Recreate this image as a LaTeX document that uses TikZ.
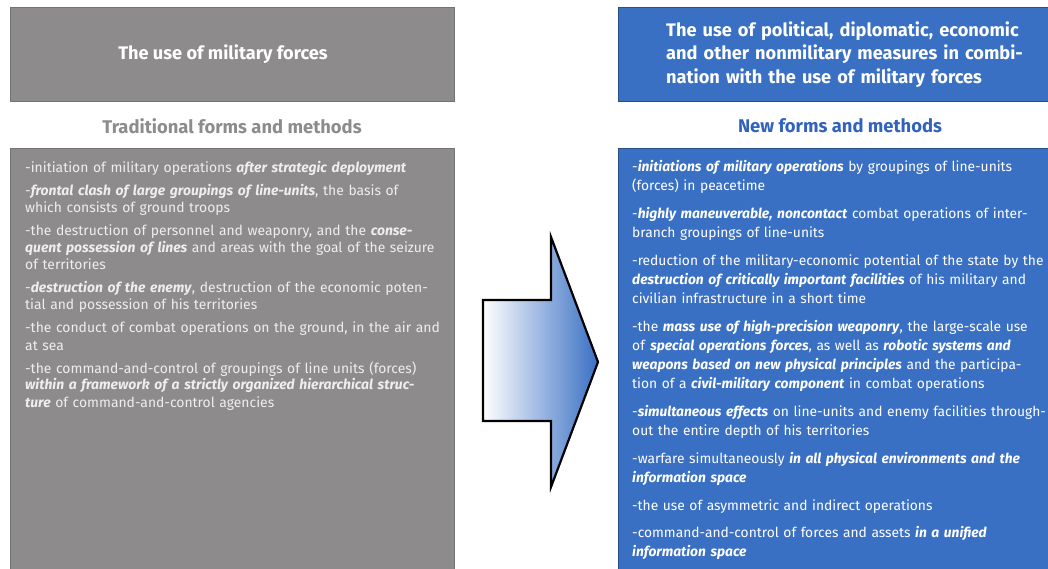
\documentclass[tikz,border=0pt]{standalone}
\usepackage{fontspec}
\setmainfont{Fira Sans}
\definecolor{boxgray}{RGB}{142,139,140}
\definecolor{boxblue}{RGB}{58,112,196}
\definecolor{headgray}{RGB}{140,140,140}
\definecolor{headblue}{RGB}{48,98,190}
\definecolor{lighttext}{RGB}{238,238,238}
\newcommand\emb[1]{\textbf{\textit{#1}}}
\begin{document}
\begin{tikzpicture}[x=1pt,y=-1pt,
  graybox/.style={fill=boxgray,draw=black!55,line width=1pt,anchor=north west,inner sep=0pt},
  bluebox/.style={fill=boxblue,draw=boxblue!70!black,line width=1pt,anchor=north west,inner sep=0pt},
  titletxt/.style={text=white,font=\fontsize{18.2}{23.5}\selectfont\bfseries,inner sep=0pt},
  subtxt/.style={font=\fontsize{18.4}{22}\selectfont\bfseries,inner sep=0pt},
  bodyL/.style={text=lighttext,font=\fontsize{13.9}{17}\selectfont,align=left,text width=440pt,inner sep=0pt,anchor=base west},
  bodyR/.style={text=white,font=\fontsize{13.8}{19}\selectfont,align=left,text width=420pt,inner sep=0pt,anchor=base west}]
\useasboundingbox (0,0) rectangle (1048,569);
\clip (0,0) rectangle (1048,569);
% left column
\node[graybox,minimum width=444pt,minimum height=94pt] (lhead) at (10,7) {};
\node[titletxt] (lheadtxt) at (223,54) {The use of military forces};
\node[subtxt,text=headgray] (lsub) at (232,126) {Traditional forms and methods};
\node[graybox,minimum width=444pt,minimum height=430pt] (lbody) at (10,148) {};
\node[bodyL] (ltext) at (25,173) {%
-initiation of military operations \emb{after strategic deployment}\\[6pt]
-\emb{frontal clash of large groupings of line-units}, the basis of\\
which consists of ground troops\\[6pt]
-the destruction of personnel and weaponry, and the \emb{conse-}\\
\emb{quent possession of lines} and areas with the goal of the seizure\\
of territories\\[6pt]
-\emb{destruction of the enemy}, destruction of the economic poten-\\
tial and possession of his territories\\[6pt]
-the conduct of combat operations on the ground, in the air and\\
at sea\\[6pt]
-the command-and-control of groupings of line units (forces)\\
\emb{within a framework of a strictly organized hierarchical struc-}\\
\emb{ture} of command-and-control agencies};
% right column
\node[bluebox,minimum width=440pt,minimum height=94pt] (rhead) at (618,7) {};
\node[titletxt,font=\fontsize{18.2}{23.5}\selectfont\bfseries,align=left,text width=380pt,anchor=base west] (rheadtxt) at (666,36.5) {The use of political, diplomatic, economic\\
and other nonmilitary measures in combi-\\
nation with the use of military forces};
\node[subtxt,text=headblue] (rsub) at (840,126) {New forms and methods};
\node[bluebox,minimum width=440pt,minimum height=430pt] (rbody) at (618,148) {};
\node[bodyR] (rtext) at (632,171.5) {%
-\emb{initiations of military operations} by groupings of line-units\\
(forces) in peacetime\\[9pt]
-\emb{highly maneuverable, noncontact} combat operations of inter-\\
branch groupings of line-units\\[9pt]
-reduction of the military-economic potential of the state by the\\
\emb{destruction of critically important facilities} of his military and\\
civilian infrastructure in a short time\\[9pt]
-the \emb{mass use of high-precision weaponry}, the large-scale use\\
of \emb{special operations forces}, as well as \emb{robotic systems and}\\
\emb{weapons based on new physical principles} and the participa-\\
tion of a \emb{civil-military component} in combat operations\\[9pt]
-\emb{simultaneous effects} on line-units and enemy facilities through-\\
out the entire depth of his territories\\[9pt]
-warfare simultaneously \emb{in all physical environments and the}\\
\emb{information space}\\[9pt]
-the use of asymmetric and indirect operations\\[8pt]
-command-and-control of forces and assets \emb{in a unified}\\
\emb{information space}};
% arrow
\draw[line width=2.2pt,black,line join=miter,left color=white,right color=boxblue]
  (483,300) -- (551,300) -- (551,237) -- (598,362) -- (551,487) -- (551,421) -- (483,421) -- cycle;
\end{tikzpicture}
\end{document}
